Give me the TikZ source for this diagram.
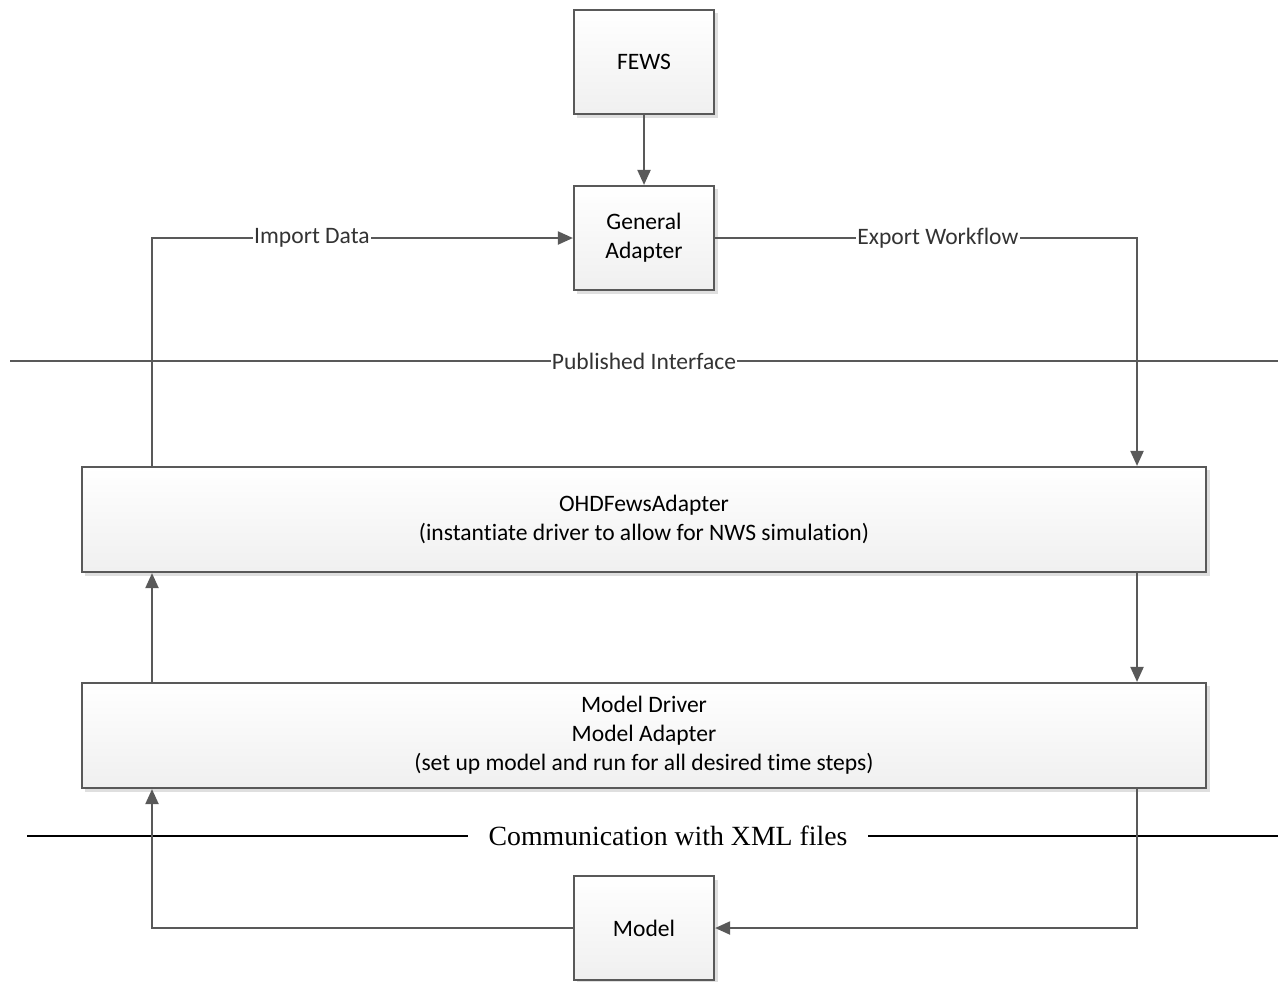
\documentclass[tikz,border=0pt]{standalone}
\usepackage{fontspec}
\setmainfont{Carlito}[Ligatures={NoCommon}]
\newfontfamily\timesfont{Liberation Serif}
\usetikzlibrary{positioning,arrows.meta,shadows}

\begin{document}
\begin{tikzpicture}[x=0.01cm, y=-0.01cm,
    box/.style = {rectangle, draw=black!65, line width=0.6pt, top color=white, bottom color=black!6,
                  drop shadow={shadow xshift=0.35mm, shadow yshift=-0.35mm, opacity=0.25},
                  align=center, font=\fontsize{6.7}{8.2}\selectfont},
    small/.style = {box, minimum width=1.4cm, minimum height=1.04cm},
    wide/.style = {box, minimum width=11.24cm, minimum height=1.05cm},
    link/.style = {draw=black!65, line width=0.6pt, -{Triangle[length=1.5mm, width=1.3mm]}},
    lbl/.style = {fill=white, inner sep=0.4pt, text=black!80, font=\fontsize{6.7}{8.2}\selectfont}]
    \useasboundingbox (0,0) rectangle (1280,981);
    % boxes
    \node[small] (fews) at (644,62) {FEWS};
    \node[small] (ga) at (644,238) {General\\Adapter};
    \node[wide] (ohd) at (644,519.5) {OHDFewsAdapter\\(instantiate driver to allow for NWS simulation)};
    \node[wide] (md) at (644,735.5) {Model Driver\\Model Adapter\\(set up model and run for all desired time steps)};
    \node[small] (model) at (644,928) {Model};
    % columns of the side connectors
    \coordinate (lx) at (152,0);
    \coordinate (rx) at (1137,0);
    % published interface
    \coordinate (pl) at (10,361);
    \coordinate (pr) at (1278,361);
    \draw[black!65, line width=0.6pt] (pl) -- node[lbl] {Published Interface} (pr);
    % xml communication
    \coordinate (cl) at (27,836);
    \coordinate (cr) at (1278,836);
    \node[inner xsep=0.2cm, inner ysep=1pt, font=\timesfont\fontsize{7.9}{10}\selectfont] (comm) at (668,836) {Communication with XML files};
    \draw[line width=0.75pt] (cl) -- (comm);
    \draw[line width=0.75pt] (comm) -- (cr);
    % connectors
    \draw[link] (fews) -- (ga);
    \draw[link] (lx |- ohd.north) |- node[lbl, pos=0.69] {Import Data} (ga.west);
    \draw[link] (ga.east) -| node[lbl, pos=0.264] {Export Workflow} (rx |- ohd.north);
    \draw[link] (md.north -| lx) -- (ohd.south -| lx);
    \draw[link] (ohd.south -| rx) -- (md.north -| rx);
    \draw[link] (model.west) -| (md.south -| lx);
    \draw[link] (md.south -| rx) |- (model.east);
\end{tikzpicture}
\end{document}
